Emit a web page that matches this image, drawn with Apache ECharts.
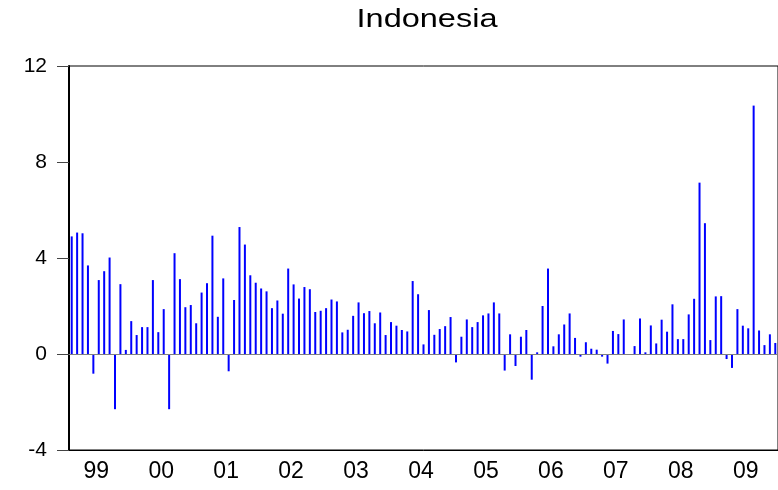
<!DOCTYPE html>
<html>
<head>
<meta charset="utf-8">
<script src="https://cdn.jsdelivr.net/npm/echarts@6/dist/echarts.min.js"></script>
<style>
  html, body { margin: 0; padding: 0; background: #fff; }
  #chart { width: 778px; height: 490px; }
</style>
</head>
<body>
<div id="chart"></div>
<script>
// monthly values, Jan 1999 .. Nov 2009
var years = ['99', '00', '01', '02', '03', '04', '05', '06', '07', '08', '09'];
var y1999 = [4.90, 5.06, 5.03, 3.69, -0.82, 3.08, 3.45, 4.02, -2.30, 2.91, 0.17, 1.37];
var y2000 = [0.79, 1.12, 1.12, 3.08, 0.91, 1.87, -2.30, 4.20, 3.12, 1.95, 2.04, 1.28];
var y2001 = [2.56, 2.95, 4.93, 1.55, 3.15, -0.72, 2.25, 5.29, 4.56, 3.28, 2.97, 2.73];
var y2002 = [2.61, 1.91, 2.23, 1.68, 3.56, 2.90, 2.31, 2.79, 2.70, 1.75, 1.80, 1.91];
var y2003 = [2.27, 2.19, 0.90, 1.01, 1.59, 2.15, 1.70, 1.79, 1.28, 1.73, 0.79, 1.33];
var y2004 = [1.18, 1.00, 0.94, 3.04, 2.49, 0.40, 1.83, 0.80, 1.04, 1.16, 1.54, -0.35];
var y2005 = [0.72, 1.44, 1.12, 1.33, 1.61, 1.69, 2.15, 1.69, -0.69, 0.82, -0.50, 0.72];
var y2006 = [1.00, -1.07, 0.07, 2.00, 3.56, 0.32, 0.82, 1.23, 1.69, 0.67, -0.11, 0.49];
var y2007 = [0.22, 0.18, -0.11, -0.40, 0.96, 0.83, 1.44, -0.04, 0.33, 1.48, 0.07, 1.19];
var y2008 = [0.44, 1.43, 0.93, 2.07, 0.62, 0.62, 1.65, 2.30, 7.14, 5.45, 0.58, 2.40];
var y2009 = [2.41, -0.21, -0.58, 1.87, 1.18, 1.07, 10.35, 0.98, 0.37, 0.82, 0.46];
var yTicks = [-4, 0, 4, 8, 12];

var byYear = [y1999, y2000, y2001, y2002, y2003, y2004, y2005, y2006, y2007, y2008, y2009];
var months = [];
var values = [];
byYear.forEach(function (arr, i) {
    arr.forEach(function (v, m) {
        months.push(years[i] + '-' + (m + 1));
        values.push(v);
    });
});

var myChart = echarts.init(document.getElementById('chart'));
var option = {
    backgroundColor: '#fff',
    animation: false,
    graphic: [{
        type: 'text',
        x: 427,
        y: 20,
        scaleX: 1.3,
        style: {
            text: 'Indonesia',
            font: '25px "Liberation Sans"',
            fill: '#000',
            textAlign: 'center',
            textVerticalAlign: 'middle'
        }
    }],
    grid: {
        left: 69,
        right: -2,
        top: 66,
        bottom: 40,
        show: true,
        borderColor: '#000',
        borderWidth: 1
    },
    xAxis: {
        type: 'category',
        data: months,
        boundaryGap: true,
        axisLine: { onZero: false, lineStyle: { color: '#000', width: 1 } },
        axisTick: {
            alignWithLabel: true,
            length: 9,
            lineStyle: { color: '#000' },
            interval: function (idx) { return idx % 12 === 11; }
        },
        axisLabel: {
            interval: function (idx) { return idx % 12 === 5; },
            formatter: function (v) { return v.split('-')[0]; },
            fontFamily: 'Liberation Sans',
            fontSize: 23,
            color: '#000',
            margin: 10,
            padding: [0, 5, 0, 0]
        },
        splitLine: { show: false }
    },
    yAxis: {
        type: 'value',
        min: yTicks[0],
        max: yTicks[yTicks.length - 1],
        interval: 4,
        axisLine: { show: true, lineStyle: { color: '#000', width: 2 } },
        axisTick: { show: true, length: 12, lineStyle: { color: '#444' } },
        axisLabel: {
            fontFamily: 'Liberation Sans',
            fontSize: 21,
            color: '#000',
            margin: 22
        },
        splitLine: { show: false }
    },
    series: [{
        name: 'Indonesia',
        type: 'bar',
        data: values,
        barWidth: 2,
        itemStyle: { color: '#0000ff' },
        markLine: {
            silent: true,
            symbol: 'none',
            label: { show: false },
            lineStyle: { color: '#808080', width: 1, type: 'solid' },
            data: [{ yAxis: 0 }]
        }
    }]
};
myChart.setOption(option);
</script>
</body>
</html>
